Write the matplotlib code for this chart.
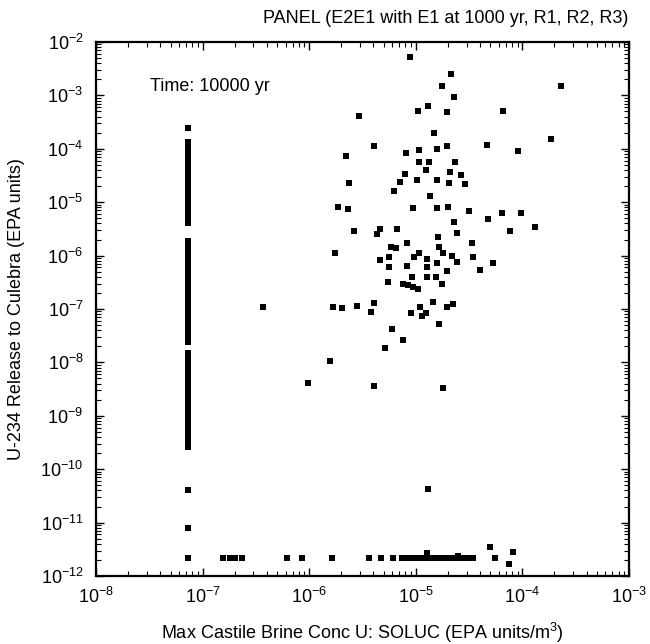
import numpy as np
import matplotlib
matplotlib.use('Agg')
import matplotlib.pyplot as plt
import matplotlib.ticker as mtick

plt.rcParams['font.family'] = ['Liberation Sans', 'DejaVu Sans']
plt.rcParams['mathtext.default'] = 'regular'

# scattered vectors (log10 of conc, log10 of release)
conc_log = [-5.054, -4.670, -4.757, -3.641, -4.639, -4.883, -4.977, -4.710, -4.179, -5.530,
            -4.826, -5.392, -4.710, -4.798, -5.655, -5.092, -4.967, -4.329, -3.732, -4.044,
            -4.967, -4.873, -4.632, -4.907, -5.101, -4.679, -4.576, -5.148, -4.986, -4.804,
            -4.689, -4.538, -5.624, -5.205, -4.867, -5.727, -5.639, -5.023, -4.798, -4.698,
            -4.501, -4.191, -4.016, -4.320, -4.642, -4.119, -3.882, -4.616, -5.583, -5.336,
            -5.361, -5.179, -4.792, -4.476, -5.080, -5.758, -5.235, -5.186, -4.780, -4.742,
            -4.660, -4.970, -5.014, -5.336, -5.254, -5.251, -5.080, -4.898, -4.804, -4.710,
            -4.616, -4.466, -4.279, -4.395, -5.038, -4.898, -4.898, -5.258, -5.123, -5.070,
            -5.023, -4.977, -4.811, -4.757, -6.431, -5.774, -5.695, -5.554, -5.392, -5.423,
            -5.048, -4.961, -4.945, -4.904, -4.841, -4.710, -4.654, -4.780, -5.226, -5.123,
            -5.286, -5.805, -6.014, -5.395, -4.748, -4.883, -4.304, -4.085, -4.123, -4.898,
            -4.601]
rel_log = [-2.275, -2.599, -2.818, -2.818, -3.036, -3.193, -3.292, -3.305, -3.292, -3.380,
           -3.710, -3.948, -3.942, -4.009, -4.135, -4.073, -4.028, -3.929, -3.822, -4.036,
           -4.253, -4.242, -4.253, -4.403, -4.466, -4.429, -4.496, -4.627, -4.590, -4.590,
           -4.646, -4.665, -4.646, -4.790, -4.878, -5.084, -5.133, -5.114, -5.114, -5.090,
           -5.159, -5.197, -5.197, -5.320, -5.365, -5.539, -5.470, -5.582, -5.534, -5.508,
           -5.601, -5.508, -5.657, -5.770, -5.758, -5.946, -5.845, -5.858, -5.845, -5.957,
           -6.007, -5.957, -6.021, -6.082, -6.032, -6.208, -6.189, -6.064, -6.144, -6.283,
           -6.114, -6.021, -6.133, -6.270, -6.395, -6.208, -6.395, -6.494, -6.532, -6.551,
           -6.582, -6.631, -6.406, -6.537, -6.968, -6.957, -6.987, -6.944, -6.893, -7.062,
           -7.069, -6.968, -7.131, -7.069, -6.863, -6.968, -6.906, -7.287, -7.380, -7.575,
           -7.736, -7.974, -8.386, -8.442, -8.474, -10.371, -11.463, -11.545, -11.781, -11.575,
           -11.620]

# vectors sitting on the lower cutoff (~2e-12)
floor_conc_log = [-6.809, -6.743, -6.696, -6.630, -6.205, -6.070, -5.789, -5.442, -5.326,
                  -5.217, -5.132, -5.085, -5.038, -4.992, -4.945, -4.898, -4.836, -4.789,
                  -4.742, -4.695, -4.648, -4.601, -4.554, -4.507, -4.461, -4.257]
floor_rel_log = -11.67

# vectors at the minimum solubility (~7.3e-8)
col_conc_log = -7.137
col_rel_log = [-3.61,
               -3.87, -3.97, -4.07, -4.17, -4.27,
               -4.35, -4.45, -4.55, -4.64,
               -4.76, -4.86, -4.96, -5.05, -5.12,
               -5.19, -5.29, -5.39,
               -5.72, -5.82, -5.92, -6.02, -6.12, -6.22, -6.32, -6.42, -6.52, -6.62,
               -6.72, -6.82, -6.92, -7.02, -7.12, -7.22, -7.32, -7.42, -7.52, -7.62,
               -7.82, -7.92, -8.02, -8.12, -8.22, -8.32, -8.42, -8.52, -8.62, -8.72,
               -8.82, -8.92, -9.02, -9.12, -9.22, -9.32, -9.42, -9.52, -9.59,
               -10.39, -11.10, -11.67]

x = 10 ** np.array(conc_log)
y = 10 ** np.array(rel_log)
xf = 10 ** np.array(floor_conc_log)
yf = np.full(len(xf), 10 ** floor_rel_log)
yc = 10 ** np.array(col_rel_log)
xc = np.full(len(yc), 10 ** col_conc_log)

fig = plt.figure(figsize=(6.5, 6.44), dpi=100)
ax = fig.add_axes([0.1477, 0.1056, 0.82, 0.8292])

ms = 4.8
ax.plot(x, y, 's', color='black', ms=ms, mew=0)
ax.plot(xf, yf, 's', color='black', ms=ms, mew=0)
ax.plot(xc, yc, 's', color='black', ms=ms, mew=0)

ax.set_xscale('log')
ax.set_yscale('log')
ax.set_xlim(1e-8, 1e-3)
ax.set_ylim(1e-12, 1e-2)

ax.xaxis.set_major_locator(mtick.LogLocator(base=10, numticks=20))
ax.yaxis.set_major_locator(mtick.LogLocator(base=10, numticks=20))
ax.xaxis.set_minor_locator(mtick.LogLocator(base=10, subs=np.arange(2, 10), numticks=20))
ax.yaxis.set_minor_locator(mtick.LogLocator(base=10, subs=np.arange(2, 10), numticks=20))
ax.xaxis.set_minor_formatter(mtick.NullFormatter())
ax.yaxis.set_minor_formatter(mtick.NullFormatter())

ax.tick_params(which='both', direction='in', top=True, right=True, labelsize=13)
ax.tick_params(which='major', length=6, width=1.0)
ax.tick_params(which='minor', length=3.5, width=0.8)
ax.tick_params(axis='x', pad=8)
ax.tick_params(axis='y', pad=9)
for s in ax.spines.values():
    s.set_linewidth(1.6)

ax.set_xlabel('Max Castile Brine Conc U: SOLUC (EPA units/m$^3$)', fontsize=13)
ax.xaxis.set_label_coords(0.5, -0.084)
ax.set_ylabel('U-234 Release to Culebra (EPA units)', fontsize=13)
ax.yaxis.set_label_coords(-0.133, 0.5)
ax.text(0.101, 0.917, 'Time: 10000 yr', transform=ax.transAxes, fontsize=13, va='center')
fig.text(0.966, 0.972, 'PANEL (E2E1 with E1 at 1000 yr, R1, R2, R3)', ha='right', va='center',
         fontsize=13)

plt.savefig('out.png', dpi=100)
plt.close()
